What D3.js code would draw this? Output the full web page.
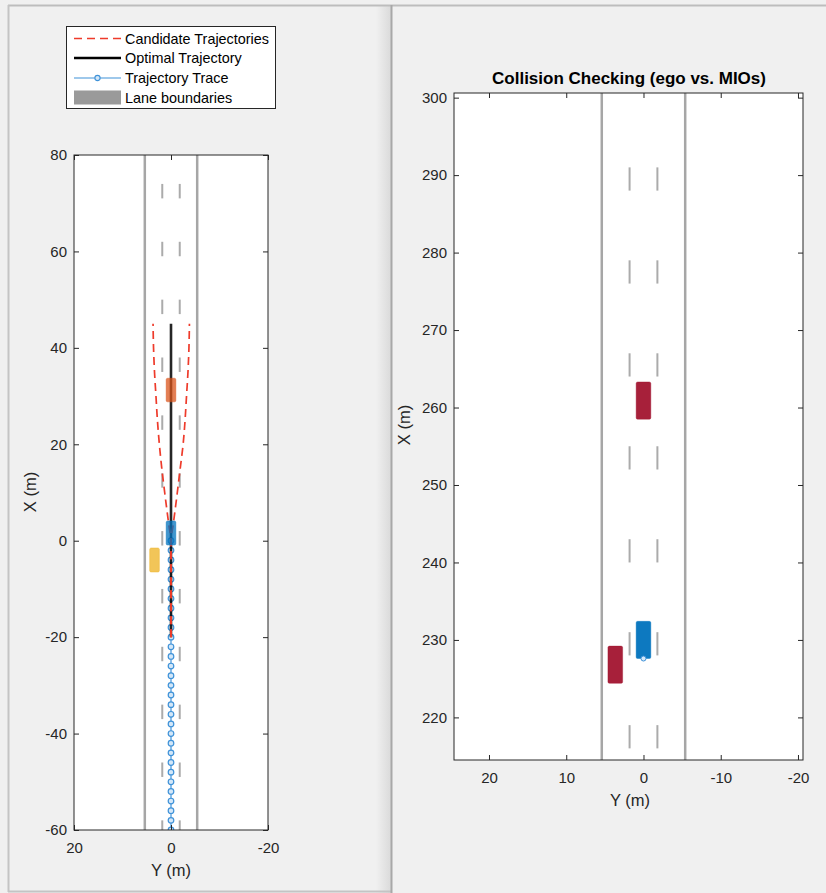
<!DOCTYPE html>
<html>
<head>
<meta charset="utf-8">
<style>
  body { margin: 0; background: #f0f0f0; }
  svg { display: block; font-family: "Liberation Sans", Arial, sans-serif; }
  .tick line { stroke: #262626; }
</style>
<script src="https://cdn.jsdelivr.net/npm/d3@7"></script>
</head>
<body>
<svg id="chart" width="826" height="893"></svg>
<script>
// ---- data (metres) ----
var leftXTicks = [80, 60, 40, 20, 0, -20, -40, -60];
var leftYTicks = [20, 0, -20];
var rightXTicks = [300, 290, 280, 270, 260, 250, 240, 230, 220];
var rightYTicks = [20, 10, 0, -10, -20];

var laneBoundaries = [5.4, -5.4];
var laneMarkings = [1.8, -1.8];
var leftDashStarts = [-61, -49, -37, -25, -13, -1, 11, 23, 35, 47, 59, 71];
var rightDashStarts = [216, 228, 240, 252, 264, 276, 288];
var dashLength = 3;

// candidate trajectories: X along road, Y lateral
var candX = [-20, -10, 0, 3, 6, 10, 15, 20, 25, 30, 35, 40, 45];
var candLeftY = [0, 0, 0, 0.4, 0.8, 1.3, 1.9, 2.4, 2.8, 3.1, 3.4, 3.6, 3.7];
var candRightY = [0, 0, 0, -0.4, -0.8, -1.3, -1.9, -2.5, -2.9, -3.2, -3.5, -3.7, -3.8];
var optimalX = [-20, 45];
var optimalY = [0, 0];

var traceX = [-60, -58, -56, -54, -52, -50, -48, -46, -44, -42, -40, -38, -36, -34, -32, -30,
              -28, -26, -24, -22, -20, -18, -16, -14, -12, -10, -8, -6, -4, -2, 0];
var traceY = [0, 0, 0, 0, 0, 0, 0, 0, 0, 0, 0, 0, 0, 0, 0, 0,
              0, 0, 0, 0, 0, 0, 0, 0, 0, 0, 0, 0, 0, 0, 0];

// vehicles [xMin, xMax, yMin, yMax]
var leftVehicles = [
  {name: "lead", box: [28.8, 33.7, -1.0, 1.0], color: "#D95319"},
  {name: "side", box: [-6.5, -1.5, 2.4, 4.4], color: "#EDB120"},
  {name: "ego",  box: [-0.9, 4.1, -1.0, 1.0], color: "#0072BD"}
];
var rightVehicles = [
  {name: "mio1", box: [258.5, 263.3, -0.95, 0.95], color: "#A2142F"},
  {name: "mio2", box: [224.4, 229.2, 2.7, 4.6], color: "#A2142F"},
  {name: "ego",  box: [227.6, 232.4, -0.95, 0.95], color: "#0072BD"}
];
var rightEgoMarker = [227.6, 0];

var fmt = function(d) { return String(d); };
var svg = d3.select("#chart");

// ---- panels ----
var defs = svg.append("defs");
var grad = defs.append("linearGradient").attr("id", "shade");
grad.append("stop").attr("offset", "0%").attr("stop-color", "#f0f0f0");
grad.append("stop").attr("offset", "100%").attr("stop-color", "#dadada");
svg.append("rect").attr("x", 376).attr("y", 5).attr("width", 15).attr("height", 888).attr("fill", "url(#shade)");
svg.append("line").attr("x1", 8).attr("x2", 826).attr("y1", 5.5).attr("y2", 5.5).attr("stroke", "#bdbdbd").attr("stroke-width", 2);
svg.append("line").attr("x1", 8.5).attr("x2", 8.5).attr("y1", 5).attr("y2", 892).attr("stroke", "#c4c4c4").attr("stroke-width", 2);
svg.append("line").attr("x1", 8).attr("x2", 392).attr("y1", 891.5).attr("y2", 891.5).attr("stroke", "#c4c4c4").attr("stroke-width", 2);
svg.append("line").attr("x1", 391.5).attr("x2", 391.5).attr("y1", 5).attr("y2", 893).attr("stroke", "#a8a8a8").attr("stroke-width", 2);

function styleAxis(sel) {
  sel.attr("font-size", 15).attr("font-family", "Liberation Sans, Arial, sans-serif");
  sel.selectAll(".tick text").attr("fill", "#262626");
  sel.select(".domain").remove();
}

function drawAxes(cfg) {
  var g = svg.append("g");
  var sx = d3.scaleLinear().domain(cfg.yDomain).range([cfg.left, cfg.right]);
  var sy = d3.scaleLinear().domain(cfg.xDomain).range([cfg.top, cfg.bottom]);
  g.append("rect").attr("x", cfg.left).attr("y", cfg.top)
    .attr("width", cfg.right - cfg.left).attr("height", cfg.bottom - cfg.top).attr("fill", "#fff");

  var clipId = "clip" + cfg.id;
  defs.append("clipPath").attr("id", clipId).append("rect")
    .attr("x", cfg.left).attr("y", cfg.top).attr("width", cfg.right - cfg.left).attr("height", cfg.bottom - cfg.top);
  var plot = g.append("g").attr("clip-path", "url(#" + clipId + ")");

  // lane boundaries
  plot.selectAll(".lb").data(laneBoundaries).enter().append("line")
    .attr("x1", function(d) { return sx(d); }).attr("x2", function(d) { return sx(d); })
    .attr("y1", cfg.top).attr("y2", cfg.bottom)
    .attr("stroke", "#a6a6a6").attr("stroke-width", 2.5);
  // lane markings
  laneMarkings.forEach(function(m) {
    plot.selectAll(null).data(cfg.dashes).enter().append("line")
      .attr("x1", sx(m)).attr("x2", sx(m))
      .attr("y1", function(d) { return sy(d); })
      .attr("y2", function(d) { return sy(d + dashLength); })
      .attr("stroke", "#ababab").attr("stroke-width", 2);
  });

  cfg.draw && cfg.draw(plot, sx, sy);

  // axes (ticks inward)
  var tl = 5;
  g.append("g").attr("transform", "translate(" + cfg.left + ",0)")
    .call(d3.axisLeft(sy).tickValues(cfg.xTicks).tickSize(-tl).tickPadding(7).tickFormat(fmt)).call(styleAxis);
  g.append("g").attr("transform", "translate(" + cfg.right + ",0)")
    .call(d3.axisRight(sy).tickValues(cfg.xTicks).tickSize(-tl).tickFormat("")).call(styleAxis);
  g.append("g").attr("transform", "translate(0," + cfg.bottom + ")")
    .call(d3.axisBottom(sx).tickValues(cfg.yTicks).tickSize(-tl).tickPadding(12).tickFormat(fmt)).call(styleAxis);
  g.append("g").attr("transform", "translate(0," + cfg.top + ")")
    .call(d3.axisTop(sx).tickValues(cfg.yTicks).tickSize(-tl).tickFormat("")).call(styleAxis);
  g.append("rect").attr("x", cfg.left).attr("y", cfg.top)
    .attr("width", cfg.right - cfg.left).attr("height", cfg.bottom - cfg.top)
    .attr("fill", "none").attr("stroke", "#262626").attr("stroke-width", 1);

  g.append("text").attr("transform", "translate(" + cfg.xLabelPos[0] + "," + cfg.xLabelPos[1] + ") rotate(-90)")
    .attr("text-anchor", "middle").attr("font-size", 16.5).attr("fill", "#262626").text("X (m)");
  g.append("text").attr("x", cfg.yLabelPos[0]).attr("y", cfg.yLabelPos[1])
    .attr("text-anchor", "middle").attr("font-size", 16.5).attr("fill", "#262626").text("Y (m)");
  return g;
}

function drawVehicles(plot, sx, sy, list, opacity) {
  plot.selectAll(null).data(list).enter().append("rect")
    .attr("x", function(d) { return sx(d.box[3]); })
    .attr("y", function(d) { return sy(d.box[1]); })
    .attr("width", function(d) { return sx(d.box[2]) - sx(d.box[3]); })
    .attr("height", function(d) { return sy(d.box[0]) - sy(d.box[1]); })
    .attr("rx", 1.5)
    .attr("fill", function(d) { return d.color; })
    .attr("fill-opacity", opacity)
    .attr("stroke", function(d) { return d.color; }).attr("stroke-opacity", 0.4).attr("stroke-width", 1);
}

// ---- left axes ----
drawAxes({
  id: "L", left: 74, right: 268, top: 155, bottom: 830,
  yDomain: [20, -20], xDomain: [80, -60],
  xTicks: leftXTicks, yTicks: leftYTicks, dashes: leftDashStarts,
  xLabelPos: [36, 492], yLabelPos: [171, 876],
  draw: function(plot, sx, sy) {
    var line = d3.line().x(function(d) { return sx(d[1]); }).y(function(d) { return sy(d[0]); });
    // trace
    var tr = d3.zip(traceX, traceY);
    plot.append("path").datum(tr).attr("d", line).attr("fill", "none")
      .attr("stroke", "#3f92d8").attr("stroke-width", 1.2);
    plot.selectAll(".mk").data(tr).enter().append("circle")
      .attr("cx", function(d) { return sx(d[1]); }).attr("cy", function(d) { return sy(d[0]); })
      .attr("r", 2.8).attr("fill", "#d3e7f8").attr("stroke", "#3f92d8").attr("stroke-width", 1.2);
    // optimal
    plot.append("path").datum(d3.zip(optimalX, optimalY)).attr("d", line)
      .attr("fill", "none").attr("stroke", "#000").attr("stroke-width", 2.6).attr("stroke-opacity", 0.85);
    // candidates
    [candLeftY, candRightY].forEach(function(ys) {
      plot.append("path").datum(d3.zip(candX, ys)).attr("d", d3.line().curve(d3.curveMonotoneY)
          .x(function(d) { return sx(d[1]); }).y(function(d) { return sy(d[0]); }))
        .attr("fill", "none").attr("stroke", "#ee3b2b").attr("stroke-width", 1.7)
        .attr("stroke-dasharray", "8,5");
    });
    drawVehicles(plot, sx, sy, leftVehicles, 0.75);
  }
});

// ---- right axes ----
var rg = drawAxes({
  id: "R", left: 454, right: 803, top: 93, bottom: 760,
  yDomain: [24.53, -20.65], xDomain: [300.6, 214.5],
  xTicks: rightXTicks, yTicks: rightYTicks, dashes: rightDashStarts,
  xLabelPos: [410, 425], yLabelPos: [630, 806],
  draw: function(plot, sx, sy) {
    drawVehicles(plot, sx, sy, rightVehicles, 0.95);
    plot.append("circle").attr("cx", sx(rightEgoMarker[1])).attr("cy", sy(rightEgoMarker[0]))
      .attr("r", 2.5).attr("fill", "#d3e7f8").attr("stroke", "#3f92d8").attr("stroke-width", 1);
  }
});
rg.append("text").attr("x", 629).attr("y", 84).attr("text-anchor", "middle")
  .attr("font-size", 17).attr("font-weight", "bold").attr("fill", "#000")
  .text("Collision Checking (ego vs. MIOs)");

// ---- legend ----
var lg = svg.append("g");
lg.append("rect").attr("x", 66.5).attr("y", 26.5).attr("width", 209).attr("height", 82)
  .attr("fill", "#fff").attr("stroke", "#262626").attr("stroke-width", 1);
var legendItems = ["Candidate Trajectories", "Optimal Trajectory", "Trajectory Trace", "Lane boundaries"];
var rowY = [38.5, 58, 78, 97.5];
legendItems.forEach(function(t, i) {
  var y = rowY[i];
  if (i === 0) {
    lg.append("line").attr("x1", 74).attr("x2", 121).attr("y1", y).attr("y2", y)
      .attr("stroke", "#ee3b2b").attr("stroke-width", 1.7).attr("stroke-dasharray", "8,5");
  } else if (i === 1) {
    lg.append("line").attr("x1", 74).attr("x2", 121).attr("y1", y).attr("y2", y)
      .attr("stroke", "#000").attr("stroke-width", 2.6);
  } else if (i === 2) {
    lg.append("line").attr("x1", 74).attr("x2", 121).attr("y1", y).attr("y2", y)
      .attr("stroke", "#3f92d8").attr("stroke-width", 1.2);
    lg.append("circle").attr("cx", 97.5).attr("cy", y).attr("r", 2.6)
      .attr("fill", "#d3e7f8").attr("stroke", "#3f92d8").attr("stroke-width", 1.1);
  } else {
    lg.append("rect").attr("x", 74).attr("y", y - 7).attr("width", 47).attr("height", 14).attr("fill", "#9a9a9a");
  }
  lg.append("text").attr("x", 125).attr("y", y + 5).attr("font-size", 14.4).attr("fill", "#000").text(t);
});
</script>
</body>
</html>
